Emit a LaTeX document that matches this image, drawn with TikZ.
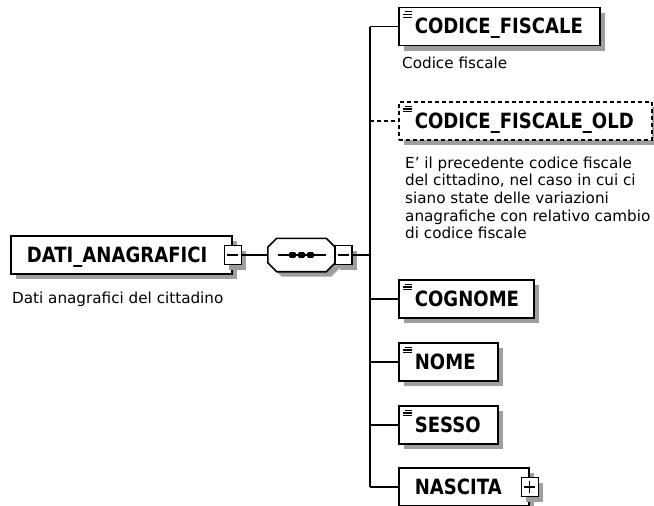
\documentclass[tikz,border=0pt]{standalone}
\usepackage{fontspec}
\setmainfont{DejaVu Sans}
\newfontfamily\boxfont{DejaVu Sans}[FakeStretch=0.86]
\usetikzlibrary{shadows,calc}
\newcommand\eqicon[1]{%
  \draw[line width=1.1pt] ($(#1.north west)+(6.5pt,-5pt)$) -- ++(7pt,0pt);
  \draw[line width=1.1pt] ($(#1.north west)+(5pt,-7.8pt)$) -- ++(8.5pt,0pt);
  \draw[line width=1.1pt] ($(#1.north west)+(5pt,-10.6pt)$) -- ++(8.5pt,0pt);}
\begin{document}
\begin{tikzpicture}[x=1pt,y=-1pt,
  shd/.style={general shadow={fill=black!38, draw=none, shadow xshift=5pt, shadow yshift=-5pt}},
  elem/.style={draw, line width=1.7pt, fill=white, shd, minimum height=38pt, inner xsep=16pt, inner ysep=0pt, text height=15pt, text depth=0pt, align=left, anchor=west, font=\boxfont\fontsize{21}{22}\selectfont\bfseries},
  optelem/.style={elem, dash pattern=on 4pt off 3pt},
  pm/.style={draw, line width=1.3pt, fill=white, shd, minimum width=17pt, minimum height=19pt, inner sep=0pt},
  pmbar/.style={line width=1.4pt},
  conn/.style={line width=1.4pt},
  desc/.style={inner sep=0pt, font=\fontsize{15.2}{17.6}\selectfont, align=left}
]
\useasboundingbox[fill=white] (0,0) rectangle (654,506);

% root element
\node[elem, text width=189pt] (dati) at (10,255) {DATI\_ANAGRAFICI};
\node[pm] (datim) at (dati.east) {};
\draw[pmbar] ($(datim.center)+(-5.5pt,0pt)$) -- ($(datim.center)+(5.5pt,0pt)$);
\node[desc, anchor=base west] (datid) at (12,303) {Dati anagrafici del cittadino};

% sequence compositor
\node[minimum width=67pt, minimum height=33pt, inner sep=0pt] (seq) at (301.5,255) {};
\draw[line width=1.6pt, fill=white, shd]
  ($(seq.north west)+(9pt,0pt)$) -- ($(seq.north east)+(-9pt,0pt)$) -- ($(seq.north east)+(0pt,-9pt)$)
  -- ($(seq.south east)+(0pt,9pt)$) -- ($(seq.south east)+(-9pt,0pt)$) -- ($(seq.south west)+(9pt,0pt)$)
  -- ($(seq.south west)+(0pt,9pt)$) -- ($(seq.north west)+(0pt,-9pt)$) -- cycle;
\draw[line width=1.4pt] ($(seq.center)+(-24pt,0pt)$) -- ($(seq.center)+(24pt,0pt)$);
\foreach \dx in {-9,0,9} \fill[rounded corners=1pt] ($(seq.center)+(\dx pt,0pt)+(-3.3pt,-2.8pt)$) rectangle ++(6.6pt,5.6pt);
\node[pm] (seqm) at (343.5,255) {};
\draw[pmbar] ($(seqm.center)+(-5.5pt,0pt)$) -- ($(seqm.center)+(5.5pt,0pt)$);

\coordinate (bus) at (370,255);

% children
\node[elem, text width=169pt] (cf) at (398,26.5) {CODICE\_FISCALE};
\node[optelem, text width=221pt] (cfo) at (398,121) {CODICE\_FISCALE\_OLD};
\node[elem, text width=103pt] (cog) at (398,299) {COGNOME};
\node[elem, text width=67pt] (nome) at (398,362) {NOME};
\node[elem, text width=67pt] (sesso) at (398,425) {SESSO};
\node[elem, text width=98pt] (nas) at (398,487) {NASCITA};
\node[pm] (nasp) at (nas.east) {};
\draw[pmbar] ($(nasp.center)+(-5.5pt,0pt)$) -- ($(nasp.center)+(5.5pt,0pt)$);
\draw[pmbar] ($(nasp.center)+(0pt,-6pt)$) -- ($(nasp.center)+(0pt,6pt)$);

\eqicon{cf}
\eqicon{cfo}
\eqicon{cog}
\eqicon{nome}
\eqicon{sesso}

% descriptions
\node[desc, anchor=base west] (cfd) at (402,68) {Codice fiscale};
\node[desc, anchor=north west] (cfod) at (405,156.5) {E\symbol{39} il precedente codice fiscale\\del cittadino, nel caso in cui ci\\siano state delle variazioni\\anagrafiche con relativo cambio\\di codice fiscale};

% connectors
\draw[conn] (datim.east) -- (seq.west);
\draw[conn] (seqm.east) -- (bus);
\draw[conn] (bus |- cf.west) -- (bus |- nas.west);
\foreach \n in {cf,cog,nome,sesso,nas} \draw[conn] (bus |- \n.west) -- (\n.west);
\draw[conn, dash pattern=on 4pt off 3pt] (bus |- cfo.west) -- (cfo.west);
\end{tikzpicture}
\end{document}
